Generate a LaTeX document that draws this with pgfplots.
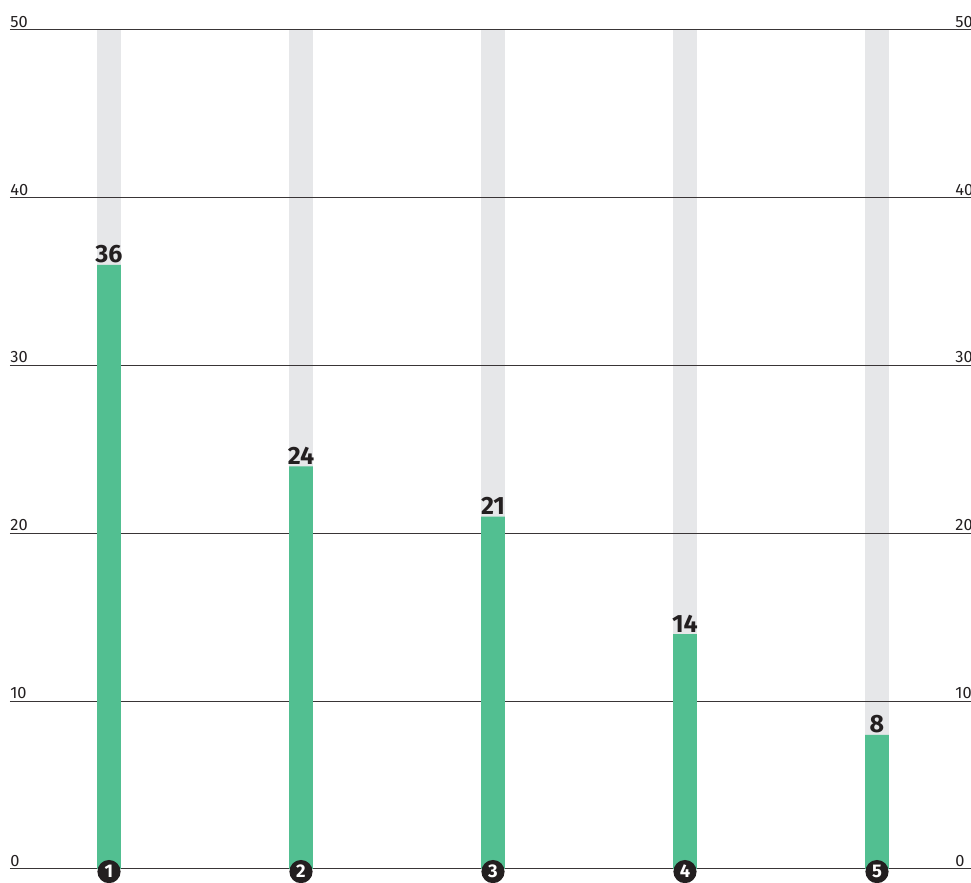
\documentclass[border=0pt]{standalone}
\usepackage{pgfplots}
\pgfplotsset{compat=1.18}
\usepackage{fontspec}
\setmainfont{Fira Sans}
\definecolor{bargreen}{HTML}{52BF91}
\definecolor{bargray}{HTML}{E6E7E9}
\definecolor{ink}{HTML}{231F20}
\pgfplotsset{
  layers/barlayers/.define layer set={axis background,axis grid,main,axis ticks,axis lines,axis tick labels,axis descriptions,axis foreground}{},
}
\tikzset{
  numdot/.style={circle, fill=ink, text=white, inner sep=0pt, minimum size=11.6pt, font=\fontsize{9.2}{10}\selectfont\bfseries},
}
\begin{document}
\begin{tikzpicture}
% 1px = 0.5pt ; axis box = pixels (10,869)-(971,30)
\begin{axis}[
  set layers=barlayers,
  at={(0,0)}, anchor=south west,
  scale only axis,
  width=480.5pt, height=419.5pt,
  xmin=-0.515625, xmax=4.489583,
  ymin=0, ymax=50,
  ytick={0,10,20,30,40,50},
  xtick=\empty,
  major tick length=0pt,
  axis line style={draw=none},
  ymajorgrids,
  grid style={ink!90, line width=0.5pt},
  yticklabel style={anchor=south west, inner sep=0pt, yshift=1.1pt, font=\fontsize{8.2}{9}\selectfont, text=ink},
  /pgf/number format/assume math mode=true,
  clip=false,
]
\addplot[ybar, bar width=11.8pt, bar shift=0pt, fill=bargray, draw=none, on layer=axis background]
  coordinates {(0,50) (1,50) (2,50) (3,50) (4,50)};
\addplot[ybar, bar width=11.8pt, bar shift=0pt, fill=bargreen, draw=none,
  nodes near coords,
  every node near coord/.append style={font=\fontsize{12.5}{13}\selectfont\bfseries, text=ink, inner sep=0pt, anchor=south, yshift=0.8pt}]
  coordinates {(0,36) (1,24) (2,21) (3,14) (4,8)};
% numbered category markers on the baseline
\node[numdot, yshift=-1.3pt] at (axis cs:0,0) {1};
\node[numdot, yshift=-1.3pt] at (axis cs:1,0) {2};
\node[numdot, yshift=-1.3pt] at (axis cs:2,0) {3};
\node[numdot, yshift=-1.3pt] at (axis cs:3,0) {4};
\node[numdot, yshift=-1.3pt] at (axis cs:4,0) {5};
% right-hand value labels
\pgfplotsinvokeforeach{0,10,20,30,40,50}{
  \node[anchor=south west, inner sep=0pt, yshift=1.1pt, font=\fontsize{8.2}{9}\selectfont, text=ink] at (axis cs:4.40625,#1) {#1};
}
\end{axis}
\pgfresetboundingbox
\path[use as bounding box] (-5pt,-7pt) rectangle (480.5pt,434.5pt);
\end{tikzpicture}
\end{document}
